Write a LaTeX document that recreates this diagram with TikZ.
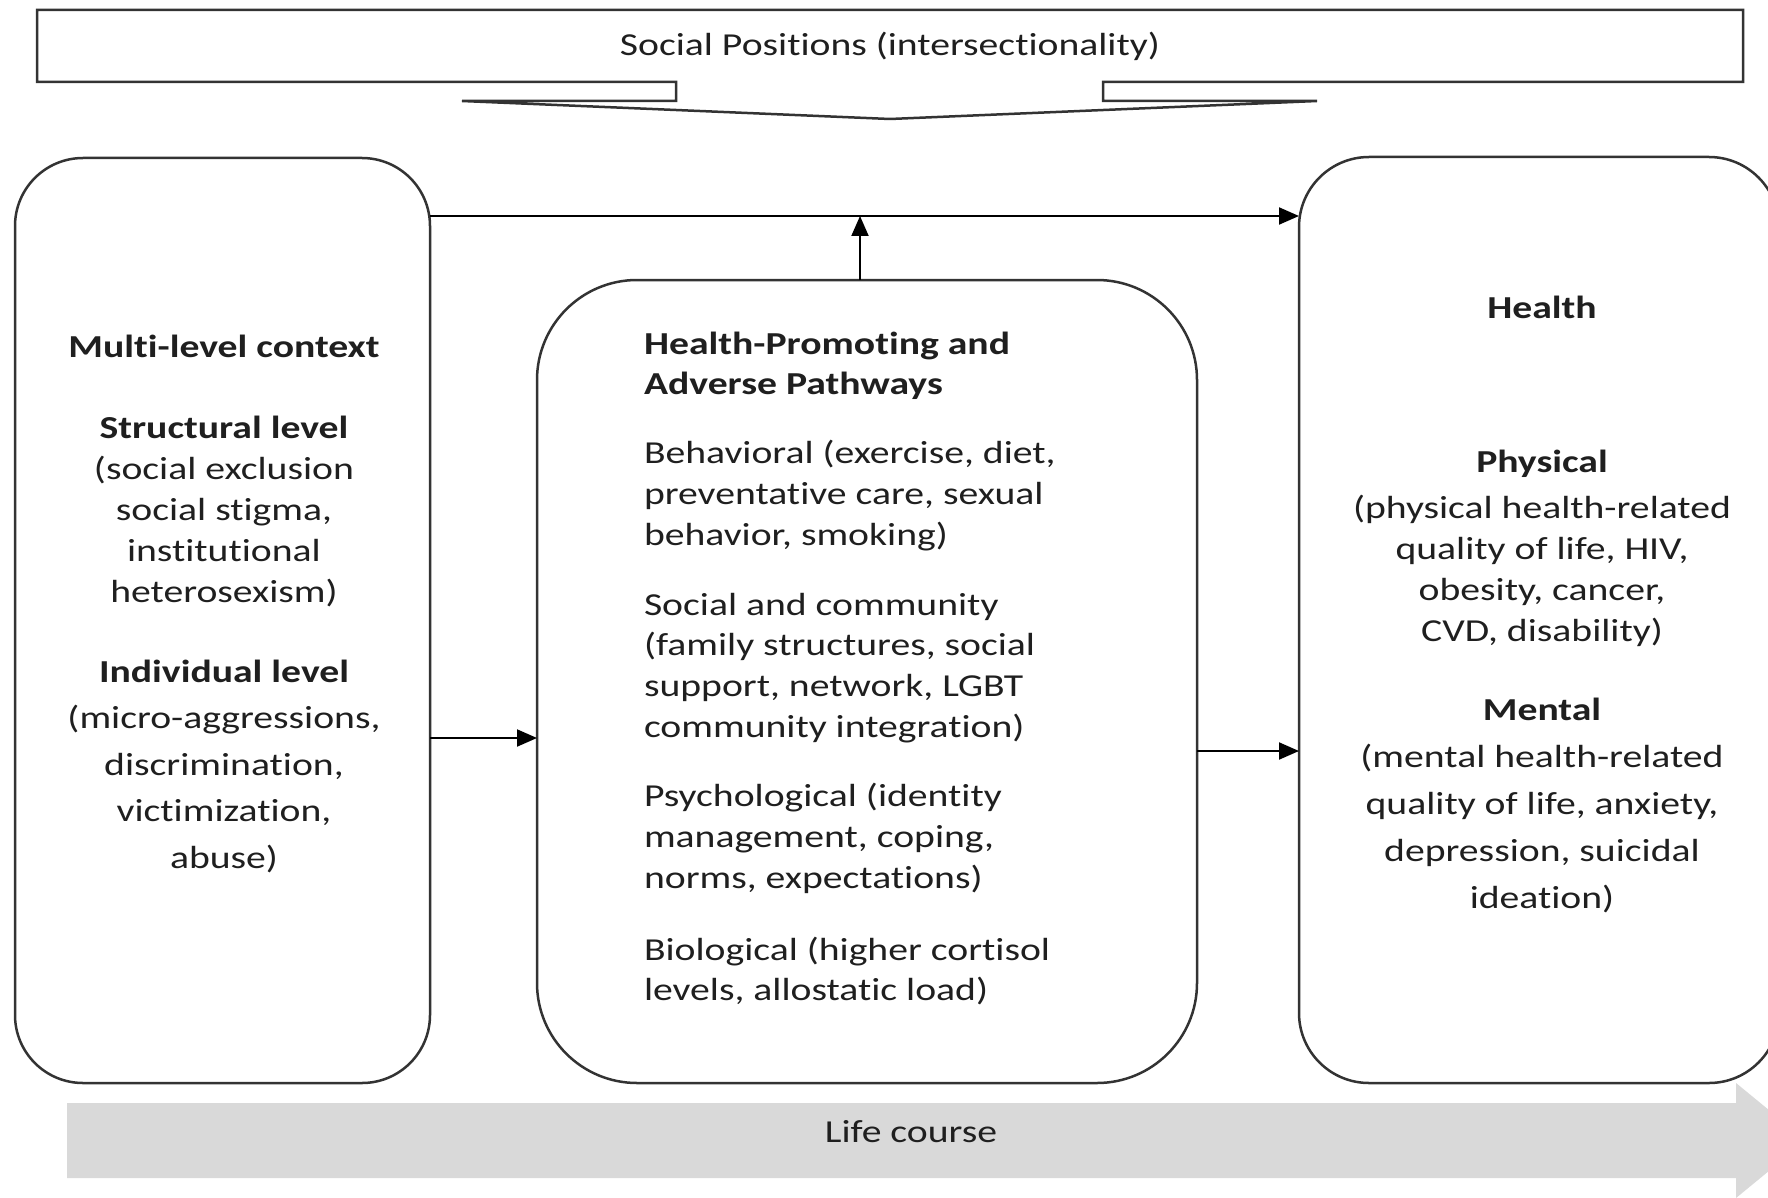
\documentclass[tikz,border=0pt]{standalone}
\usepackage{fontspec}
\setmainfont{Carlito}[FakeStretch=1.24,Ligatures=NoCommon]
\usetikzlibrary{arrows.meta}
\definecolor{lifegray}{HTML}{D9D9D9}
\definecolor{inkgray}{HTML}{333333}
\newcommand{\fs}[1]{\fontsize{32}{#1}\selectfont}

\begin{document}
\begin{tikzpicture}[x=1pt,y=-1pt,->,>={Triangle[length=20pt,width=17pt]},
line width=2pt,
box node/.style={draw=inkgray,line width=2.5pt,rectangle,outer sep=0pt,inner sep=0pt},
txt node/.style={font=\fs{40.6},text=black!88,inner sep=0pt,anchor=base},
head node/.style={txt node,font=\fs{40.6}\bfseries}]

\path[use as bounding box,clip] (0,0) rectangle (1768,1198);

% social positions banner
\draw[-,inkgray,line width=2.5pt] (37,10) -- (1743,10) -- (1743,82) -- (1103,82) -- (1103,101)
  -- (1317,101) -- (890,119) -- (462,101) -- (676,101) -- (676,82) -- (37,82) -- cycle;
\node[txt node] (social) at (890,56) {Social Positions (intersectionality)};

% life course arrow
\fill[lifegray] (67,1103) -- (1736,1103) -- (1736,1083) -- (1806,1140.5) -- (1736,1198)
  -- (1736,1178) -- (67,1178) -- cycle;
\node[txt node] (life) at (911,1142) {Life course};

% the three boxes
\node[box node,rounded corners=68pt,minimum width=415pt,minimum height=925pt] (ctx) at (222.5,620.5) {};
\node[box node,rounded corners=100pt,minimum width=660pt,minimum height=803pt] (path) at (867,681.5) {};
\node[box node,rounded corners=70pt,minimum width=480pt,minimum height=926pt] (health) at (1539,620) {};

% multi-level context (multi-line nodes sit on their last line)
\node[head node] (ctxhead) at (224,357) {Multi-level context};
\node[txt node,font=\fs{41},align=center] (struct) at (224,602)
  {\textbf{Structural level}\\(social exclusion\\social stigma,\\institutional\\heterosexism)};
\node[txt node,font=\fs{46.5},align=center] (indiv) at (224,868)
  {\textbf{Individual level}\\(micro-aggressions,\\discrimination,\\victimization,\\abuse)};

% pathways
\node[head node,align=left,anchor=base west] (pathhead) at (643,394.6)
  {Health-Promoting and\\Adverse Pathways};
\node[txt node,align=left,anchor=base west] (behav) at (643,545)
  {Behavioral (exercise, diet,\\preventative care, sexual\\behavior, smoking)};
\node[txt node,align=left,anchor=base west] (social2) at (643,737)
  {Social and community\\(family structures, social\\support, network, LGBT\\community integration)};
\node[txt node,align=left,anchor=base west] (psych) at (643,888)
  {Psychological (identity\\management, coping,\\norms, expectations)};
\node[txt node,align=left,anchor=base west] (bio) at (643,1000.6)
  {Biological (higher cortisol\\levels, allostatic load)};

% health
\node[head node] (healthhead) at (1542,318) {Health};
\node[txt node,font=\fs{41},align=center] (phys) at (1542,641)
  {\textbf{Physical}\\[4.5pt](physical health-related\\quality of life, HIV,\\obesity, cancer,\\CVD, disability)};
\node[txt node,font=\fs{47},align=center] (mental) at (1542,908)
  {\textbf{Mental}\\(mental health-related\\quality of life, anxiety,\\depression, suicidal\\ideation)};

% connectors
\coordinate (toprow) at (0,216);
\coordinate (midrow) at (0,738);
\coordinate (lowrow) at (0,751);
\coordinate (up) at ([xshift=-7pt]path.north);
\path
(ctx.east |- toprow) edge (health.west |- toprow)
(up) edge (up |- toprow)
(ctx.east |- midrow) edge (path.west |- midrow)
(path.east |- lowrow) edge (health.west |- lowrow);
\end{tikzpicture}
\end{document}
